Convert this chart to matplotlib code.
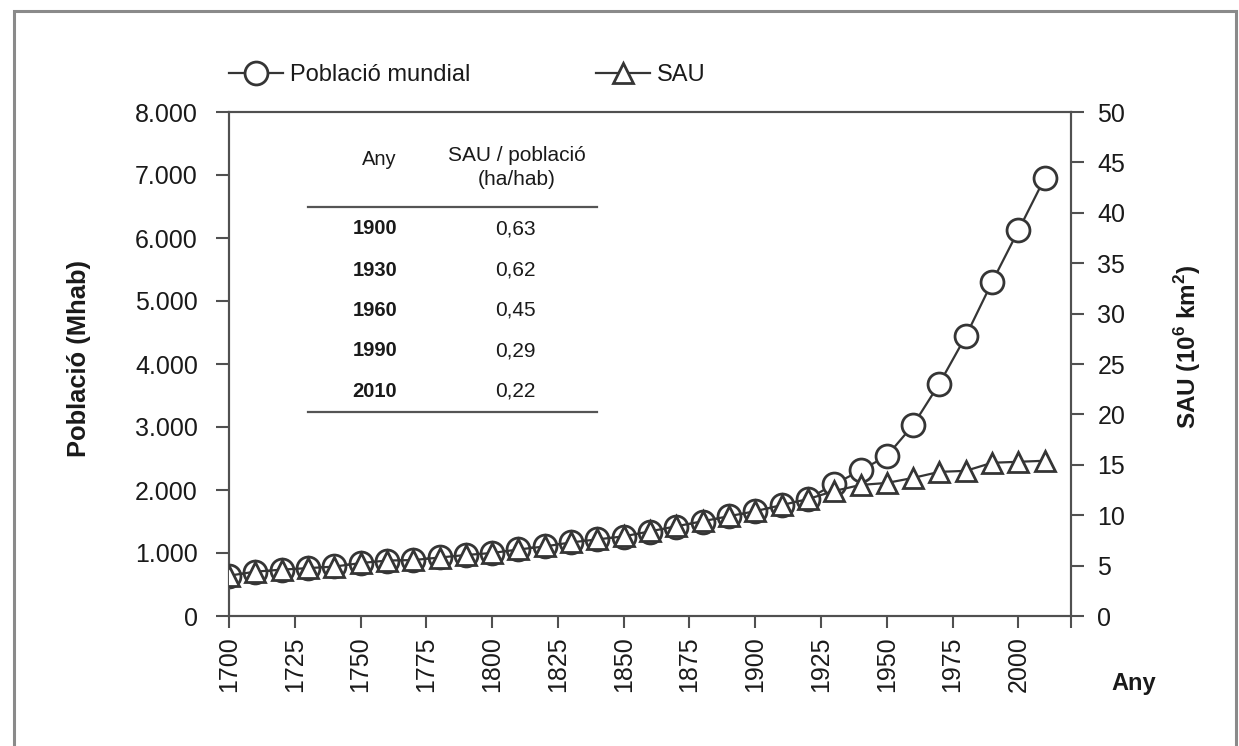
import matplotlib
matplotlib.use('Agg')
import matplotlib.pyplot as plt
from matplotlib.lines import Line2D
from matplotlib.patches import Rectangle
from matplotlib.ticker import FuncFormatter

# ---------------- data ----------------
years = list(range(1700, 2011, 10))
population = [640, 700, 730, 760, 790, 840, 880, 890, 930, 970,
              1000, 1060, 1110, 1170, 1220, 1260, 1340, 1420, 1500, 1580,
              1660, 1760, 1860, 2090, 2310, 2540, 3030, 3690, 4440, 5300,
              6120, 6950]
sau = [4.0, 4.4, 4.6, 4.75, 4.9, 5.25, 5.5, 5.55, 5.8, 6.05,
       6.25, 6.6, 6.9, 7.3, 7.6, 7.9, 8.4, 8.9, 9.4, 9.9,
       10.4, 11.0, 11.6, 12.4, 13.0, 13.2, 13.7, 14.3, 14.4, 15.2,
       15.3, 15.4]
xticks = list(range(1700, 2001, 25))
pop_ticks = list(range(0, 8001, 1000))
sau_ticks = list(range(0, 51, 5))
table_years = ['1900', '1930', '1960', '1990', '2010']
table_ratio = ['0,63', '0,62', '0,45', '0,29', '0,22']
series_labels = ['Població mundial', 'SAU']

# ---------------- style ----------------
FONT = ['Liberation Sans', 'DejaVu Sans']
plt.rcParams['font.family'] = FONT
plt.rcParams['mathtext.fontset'] = 'custom'
plt.rcParams['mathtext.rm'] = 'Liberation Sans'
plt.rcParams['mathtext.bf'] = 'Liberation Sans:bold'
TXT = '#1a1a1a'
AXC = '#505050'
LC = '#353535'
TICK_FS = 18

fig = plt.figure(figsize=(12.39, 7.46), dpi=100)
fig.patch.set_facecolor('white')

# outer frame
fig.patches.append(Rectangle((14 / 1239, -0.05), (1236 - 14) / 1239, 1.05 - 11 / 746,
                             transform=fig.transFigure, fill=False,
                             edgecolor='#8a8a8a', linewidth=2.2))

ax = fig.add_axes([229 / 1239, 1 - 616 / 746, 842 / 1239, 504 / 746])
ax2 = ax.twinx()

ax.plot(years, population, color=LC, lw=1.6, marker='o', ms=16.5,
        mfc='white', mec=LC, mew=2.0, zorder=3)
ax2.plot(years, sau, color=LC, lw=1.6, marker='^', ms=14,
         mfc='white', mec=LC, mew=2.0, zorder=3)

ax.set_xlim(1700, 2020)
ax.set_ylim(0, 8000)
ax2.set_ylim(0, 50)

ax.set_xticks(xticks)
ax.set_xticks([2020], minor=True)
ax.set_yticks(pop_ticks)
ax2.set_yticks(sau_ticks)
ax.yaxis.set_major_formatter(FuncFormatter(lambda v, p: f'{int(v):,}'.replace(',', '.')))

for a in (ax, ax2):
    for s in a.spines.values():
        s.set_color(AXC)
        s.set_linewidth(1.5)

ax.tick_params(axis='y', direction='out', length=9.5, width=1.5, color=AXC,
               labelsize=TICK_FS, labelcolor=TXT, pad=13)
ax2.tick_params(axis='y', direction='out', length=9, width=1.5, color=AXC,
                labelsize=TICK_FS, labelcolor=TXT, pad=10)
ax.tick_params(axis='x', which='both', direction='out', length=8.5, width=1.5,
               color=AXC, labelsize=TICK_FS, labelcolor=TXT, pad=6, labelrotation=90)

ax.set_ylabel('Població (Mhab)', fontsize=18.4, fontweight='bold', color=TXT)
ax.yaxis.set_label_coords(-0.164, 0.51)
ax2.set_ylabel(r'SAU (10$^{\mathbf{6}}$ km$^{\mathbf{2}}$)', fontsize=17.5,
               fontweight='bold', color=TXT, rotation=90)
ax2.yaxis.set_label_coords(1.12, 0.534)
ax.text(1.074, -0.133, 'Any', transform=ax.transAxes, ha='center', va='center',
        fontsize=17, fontweight='bold', color=TXT)

# legend
handles = [Line2D([], [], color=LC, lw=1.6, marker='o', ms=16.5, mfc='white', mec=LC, mew=2.0),
           Line2D([], [], color=LC, lw=1.6, marker='^', ms=14, mfc='white', mec=LC, mew=2.0)]
leg = ax2.legend(handles, series_labels, ncol=2, loc='center left',
                 bbox_to_anchor=(0.0, 1.073), bbox_transform=ax.transAxes,
                 frameon=False, fontsize=17, handlelength=2.29, handletextpad=0.3,
                 columnspacing=5.3, borderpad=0, borderaxespad=0)
for t in leg.get_texts():
    t.set_color(TXT)

# inset table
T = ax.transAxes
ax.text(0.179, 0.905, 'Any', transform=T, ha='center', va='center', fontsize=14.5, color=TXT)
ax.text(0.342, 0.913, 'SAU / població', transform=T, ha='center', va='center', fontsize=15, color=TXT)
ax.text(0.342, 0.866, '(ha/hab)', transform=T, ha='center', va='center', fontsize=15, color=TXT)
ax.plot([0.0938, 0.437], [0.8115, 0.8115], transform=T, color='#555555', lw=1.6, clip_on=False)
ax.plot([0.0938, 0.437], [0.405, 0.405], transform=T, color='#555555', lw=1.6, clip_on=False)
row_y = [0.768, 0.686, 0.607, 0.526, 0.446]
for yy, yr, rv in zip(row_y, table_years, table_ratio):
    ax.text(0.173, yy, yr, transform=T, ha='center', va='center', fontsize=14.5,
            fontweight='bold', color=TXT)
    ax.text(0.340, yy, rv, transform=T, ha='center', va='center', fontsize=15, color=TXT)

fig.savefig('out.png', dpi=100, facecolor='white')
